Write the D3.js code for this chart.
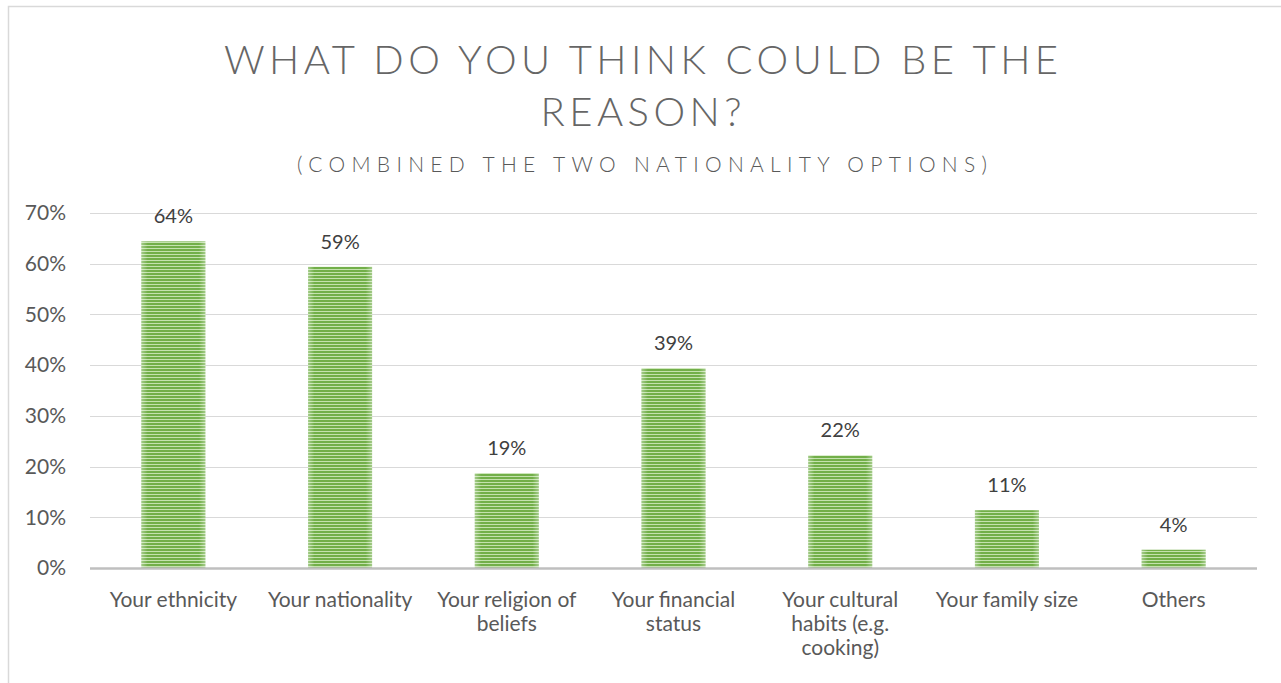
<!DOCTYPE html>
<html>
<head>
<meta charset="utf-8">
<script src="https://cdn.jsdelivr.net/npm/d3@7"></script>
<style>
  html, body { margin: 0; padding: 0; background: #fff; }
  svg { display: block; font-family: Lato, "Open Sans", sans-serif; }
</style>
</head>
<body>
<svg id="chart" width="1281" height="683"></svg>
<script>
// Survey answers: share of respondents naming each reason
const categories = [
  ["Your ethnicity"],
  ["Your nationality"],
  ["Your religion of", "beliefs"],
  ["Your financial", "status"],
  ["Your cultural", "habits (e.g.", "cooking)"],
  ["Your family size"],
  ["Others"]
];
const values = [0.644, 0.594, 0.187, 0.394, 0.222, 0.114, 0.036];
const yTicks = [0, 0.1, 0.2, 0.3, 0.4, 0.5, 0.6, 0.7];
const titleLines = ["WHAT DO YOU THINK COULD BE THE", "REASON?"];
const subtitle = "(COMBINED THE TWO NATIONALITY OPTIONS)";

const svg = d3.select("#chart");
const W = 1281, H = 683;
const plot = { left: 90, right: 1257, top: 213, bottom: 568 };
const textGrey = "#595959";

// outer chart frame
svg.append("rect")
  .attr("x", 8.5).attr("y", 6.5)
  .attr("width", W + 20).attr("height", H + 20)
  .attr("fill", "#fff").attr("stroke", "#d9d9d9").attr("stroke-width", 1.5);

// striped bar fill with lighter edges
const defs = svg.append("defs");
const pat = defs.append("pattern")
  .attr("id", "stripes").attr("patternUnits", "userSpaceOnUse")
  .attr("width", 8).attr("height", 3);
pat.append("rect").attr("width", 8).attr("height", 3).attr("fill", "#c4e2ae");
pat.append("rect").attr("width", 8).attr("height", 2).attr("fill", "#72af49")
  .attr("shape-rendering", "crispEdges");

const edge = defs.append("linearGradient").attr("id", "edgeGlow")
  .attr("x1", "0").attr("x2", "1").attr("y1", "0").attr("y2", "0");
[[0, 0.35], [0.1, 0], [0.9, 0], [1, 0.35]].forEach(([o, a]) => {
  edge.append("stop").attr("offset", o).attr("stop-color", "#ffffff").attr("stop-opacity", a);
});

const x = d3.scaleBand()
  .domain(d3.range(categories.length))
  .range([plot.left, plot.right])
  .paddingInner(0.616)
  .paddingOuter(0.308);

const y = d3.scaleLinear().domain([0, 0.7]).range([plot.bottom, plot.top]);

// gridlines
svg.append("g")
  .selectAll("line")
  .data(yTicks.slice(1))
  .join("line")
  .attr("x1", plot.left).attr("x2", plot.right)
  .attr("y1", d => Math.round(y(d)) + 0.5).attr("y2", d => Math.round(y(d)) + 0.5)
  .attr("stroke", "#d9d9d9").attr("stroke-width", 1);

// y axis labels
const yAxis = d3.axisLeft(y).tickValues(yTicks).tickFormat(d3.format(".0%")).tickSize(0).tickPadding(0);
const yg = svg.append("g").attr("transform", "translate(66,0)").call(yAxis);
yg.select(".domain").remove();
yg.selectAll("text")
  .attr("fill", textGrey).attr("font-size", 21)
  .attr("font-family", "Lato, 'Open Sans', sans-serif");

// bars
const bars = svg.append("g");
bars.selectAll("rect.bar")
  .data(values)
  .join("rect")
  .attr("class", "bar")
  .attr("x", (d, i) => x(i)).attr("width", x.bandwidth())
  .attr("y", d => y(d)).attr("height", d => y(0) - y(d))
  .attr("fill", "url(#stripes)");
bars.selectAll("rect.glow")
  .data(values)
  .join("rect")
  .attr("class", "glow")
  .attr("x", (d, i) => x(i)).attr("width", x.bandwidth())
  .attr("y", d => y(d)).attr("height", d => y(0) - y(d))
  .attr("fill", "url(#edgeGlow)");

// baseline
svg.append("line")
  .attr("x1", plot.left).attr("x2", plot.right)
  .attr("y1", y(0) + 0.5).attr("y2", y(0) + 0.5)
  .attr("stroke", "#bfbfbf").attr("stroke-width", 2.5);

// value labels
svg.append("g")
  .selectAll("text")
  .data(values)
  .join("text")
  .attr("x", (d, i) => x(i) + x.bandwidth() / 2)
  .attr("y", d => y(d) - 18)
  .attr("text-anchor", "middle")
  .attr("font-size", 20).attr("fill", "#404040")
  .text(d => d3.format(".0%")(d));

// category labels
const cat = svg.append("g")
  .selectAll("text")
  .data(categories)
  .join("text")
  .attr("x", (d, i) => x(i) + x.bandwidth() / 2)
  .attr("y", 607)
  .attr("text-anchor", "middle")
  .attr("font-size", 21).attr("fill", textGrey);
cat.selectAll("tspan")
  .data(d => d)
  .join("tspan")
  .attr("x", function () { return this.parentNode.getAttribute("x"); })
  .attr("dy", (d, i) => i === 0 ? 0 : 24)
  .text(d => d);

// title: two lines sharing one letter spacing, first line 834px wide
const titleText = svg.append("g").attr("fill", "#666666")
  .selectAll("text")
  .data(titleLines)
  .join("text")
  .attr("y", (d, i) => 74 + i * 52)
  .attr("font-size", 40).attr("font-weight", 300)
  .text(d => d);
const firstLen = titleText.node().getComputedTextLength();
const chars = titleLines[0].length;
const spacing = (834 - firstLen) / (chars - 1);
titleText
  .attr("letter-spacing", spacing + "px")
  .attr("x", function () {
    const w = this.getComputedTextLength() - spacing;
    return 641 - w / 2;
  });

svg.append("text")
  .attr("x", 642).attr("y", 172)
  .attr("text-anchor", "middle")
  .attr("font-size", 21).attr("font-weight", 300).attr("fill", textGrey)
  .attr("textLength", 690)
  .attr("lengthAdjust", "spacing")
  .text(subtitle);
</script>
</body>
</html>
